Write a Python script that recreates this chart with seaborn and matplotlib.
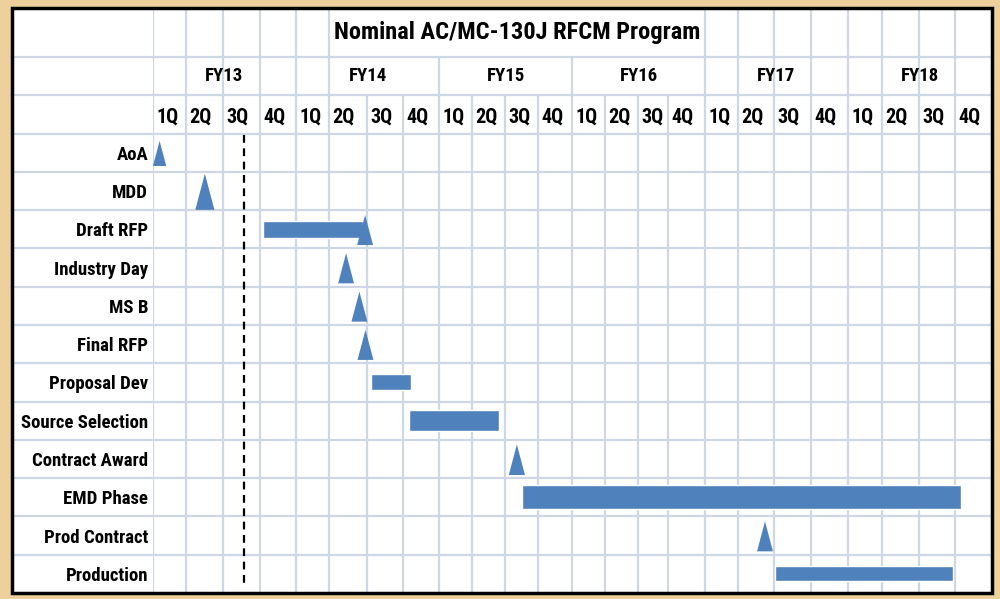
import numpy as np
import matplotlib.pyplot as plt
import matplotlib.transforms as mtransforms
from matplotlib.patches import Rectangle
import seaborn as sns
import pandas as pd

# chart content
title = "Nominal AC/MC-130J RFCM Program"
fiscal_years = ["FY13", "FY14", "FY15", "FY16", "FY17", "FY18"]
quarters = ["1Q", "2Q", "3Q", "4Q"]
tasks = ["AoA", "MDD", "Draft RFP", "Industry Day", "MS B", "Final RFP",
         "Proposal Dev", "Source Selection", "Contract Award", "EMD Phase",
         "Prod Contract", "Production"]

# bars, in quarters counted from the start of FY13
bar_tasks = ["Draft RFP", "Proposal Dev", "Source Selection", "EMD Phase", "Production"]
bar_start = [3.08, 6.1, 7.17, 10.5, 18.03]
bar_end = [5.9, 7.22, 9.82, 23.16, 22.94]

# milestones (triangles)
ms_tasks = ["AoA", "MDD", "Draft RFP", "Industry Day", "MS B", "Final RFP",
            "Contract Award", "Prod Contract"]
ms_date = [0.2, 1.51, 5.95, 5.45, 5.8, 5.96, 10.36, 17.75]

today = 2.57

# --- styling ---
# the spreadsheet columns are not all the same width
col_px = [33, 37, 37, 36, 33, 38, 36, 36, 33, 33, 33, 34,
          33, 33, 30, 37, 33, 36, 37, 37, 34, 37, 36, 37]
bar_h = [0.44, 0.42, 0.55, 0.63, 0.39]
tri_h = [18, 26, 21.6, 21.6, 21.6, 21.6, 22, 21.6]  # triangle heights, points
blue = "#4F81BD"
grid_c = "#CFD6E4"
title_top = -3.28
fs = 13.5

sns.set_theme(style="white")
plt.rcParams["font.family"] = ["Roboto Condensed", "Lato", "DejaVu Sans"]
plt.rcParams["font.weight"] = "bold"

edges_q = np.arange(len(col_px) + 1)
edges_px = np.concatenate([[0], np.cumsum(col_px)]).astype(float)


def fwd(q):
    return np.interp(q, edges_q, edges_px)


def inv(p):
    return np.interp(p, edges_px, edges_q)


fig = plt.figure(figsize=(10, 5.99), dpi=100)
fig.patch.set_facecolor("#EDD09C")
ax = fig.add_axes([0.153, 6 / 599, 0.839, 585 / 599])
ax.set_facecolor("none")
ax.set_xscale("function", functions=(fwd, inv))
ax.set_xlim(0, 24)
ax.set_ylim(12, title_top)
for s in ax.spines.values():
    s.set_visible(False)

# white table background and outer frame
fig.add_artist(Rectangle((0.012, 6 / 599), 0.98, 585 / 599, transform=fig.transFigure,
                         facecolor="white", edgecolor="none", zorder=-5))
fig.add_artist(Rectangle((0.012, 6 / 599), 0.98, 585 / 599, transform=fig.transFigure,
                         facecolor="none", edgecolor="black", lw=2.5, zorder=20))

# horizontal grid lines across the whole table
blend = mtransforms.blended_transform_factory(fig.transFigure, ax.transData)
for y in [-2, -1] + list(range(0, 12)):
    ax.plot([0.012, 0.992], [y, y], transform=blend, color=grid_c, lw=1.6,
            clip_on=False, zorder=1)

# vertical grid lines, shorter inside merged header cells
for k in range(0, 24):
    if k <= 5 or k >= 16:
        top = title_top
    elif k % 4 == 0:
        top = -2
    else:
        top = -1
    ax.vlines(k, top, 12, color=grid_c, lw=1.6, zorder=1)

# header texts
ax.text(inv((fwd(5) + fwd(16)) / 2), (title_top - 2) / 2, title, ha="center",
        va="center", fontsize=17.6, fontweight="bold", color="black")
for i, fy in enumerate(fiscal_years):
    ax.text(inv((fwd(4 * i) + fwd(4 * i + 4)) / 2), -1.5, fy, ha="center",
            va="center", fontsize=fs, fontweight="bold", color="black")
for k in range(24):
    ax.annotate(quarters[k % 4], xy=(k, -0.43), xytext=(2.5, 0),
                textcoords="offset points", ha="left", va="center",
                fontsize=14.5, fontweight="bold", color="black")

# task labels
ax.set_yticks(np.arange(len(tasks)) + 0.5, tasks)
ax.set_xticks([])
ax.tick_params(axis="y", length=0, pad=3.5, labelsize=fs, labelcolor="black")
for lab in ax.get_yticklabels():
    lab.set_fontweight("bold")

row = {t: i for i, t in enumerate(tasks)}

# today line
ax.vlines(today, 0.05, 11.87, color="black", lw=1.6, linestyles=(0, (3.5, 2.5)), zorder=3)

# bars
bars = pd.DataFrame({"task": bar_tasks, "start": bar_start, "end": bar_end})
ax.barh([row[t] + 0.5 for t in bars["task"]], bars["end"] - bars["start"],
        left=bars["start"], height=bar_h, color=blue, zorder=4)

# milestones
tri = [(-0.53, -1), (0.53, -1), (0, 1)]
ms = pd.DataFrame({"date": ms_date, "y": [row[t] + 0.52 for t in ms_tasks]})
sns.scatterplot(data=ms, x="date", y="y", marker=tri, s=np.square(tri_h), color=blue,
                linewidth=0, ax=ax, zorder=5, legend=False)
ax.set_xlabel("")
ax.set_ylabel("")
ax.set_xlim(0, 24)
ax.set_ylim(12, title_top)

fig.savefig("out.png", dpi=100, facecolor=fig.get_facecolor())
